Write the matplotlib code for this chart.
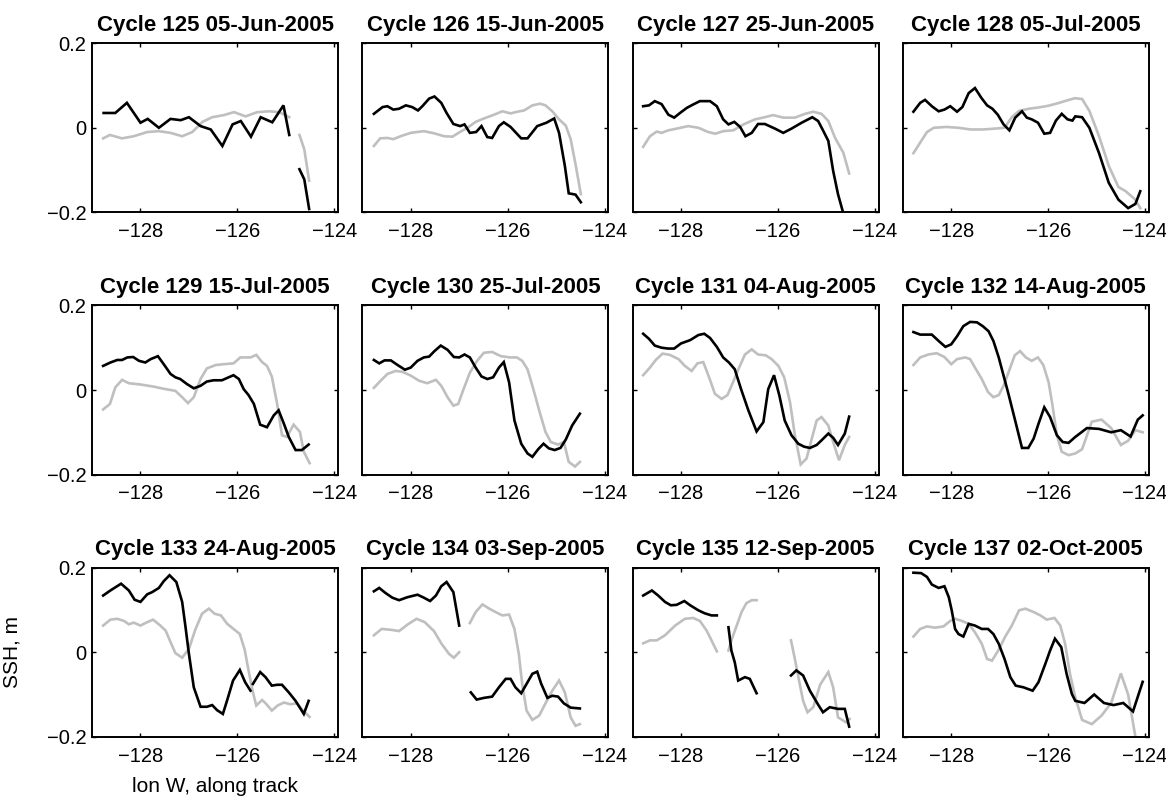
import numpy as np
import matplotlib.pyplot as plt

plt.rcParams["font.family"] = "Liberation Sans"

nan = np.nan

titles = ["Cycle 125 05-Jun-2005", "Cycle 126 15-Jun-2005", "Cycle 127 25-Jun-2005",
          "Cycle 128 05-Jul-2005", "Cycle 129 15-Jul-2005", "Cycle 130 25-Jul-2005",
          "Cycle 131 04-Aug-2005", "Cycle 132 14-Aug-2005", "Cycle 133 24-Aug-2005",
          "Cycle 134 03-Sep-2005", "Cycle 135 12-Sep-2005", "Cycle 137 02-Oct-2005"]

# (lon, ssh) vertices along the track, (nan, nan) marks a gap
dark_125 = [(-128.76, .035), (-128.52, .035), (-128.28, .059), (-128.0, .012), (-127.85, .021),
            (-127.62, .0), (-127.38, .021), (-127.17, .018), (-127.0, .025), (-126.76, .004),
            (-126.55, -.004), (-126.31, -.043), (-126.1, .008), (-125.93, .016), (-125.72, -.021),
            (-125.52, .025), (-125.28, .013), (-125.05, .053), (-124.93, -.017), (nan, nan),
            (-124.72, -.098), (-124.62, -.122), (-124.52, -.192)]
grey_125 = [(-128.77, -.025), (-128.63, -.017), (-128.38, -.025), (-128.14, -.02), (-127.86, -.01),
            (-127.62, -.008), (-127.38, -.012), (-127.14, -.02), (-126.93, -.01), (-126.72, .014),
            (-126.52, .025), (-126.28, .03), (-126.07, .037), (-125.83, .027), (-125.59, .037),
            (-125.34, .039), (-125.14, .037), (-124.93, .025), (nan, nan),
            (-124.72, -.017), (-124.62, -.051), (-124.52, -.125)]

dark_126 = [(-128.76, .033), (-128.58, .049), (-128.48, .051), (-128.36, .043), (-128.24, .045),
            (-128.1, .053), (-127.97, .049), (-127.85, .041), (-127.76, .051), (-127.62, .069),
            (-127.51, .074), (-127.37, .059), (-127.26, .035), (-127.12, .009), (-126.98, .004),
            (-126.89, .008), (-126.78, -.012), (-126.65, -.01), (-126.54, .004), (-126.42, -.022),
            (-126.32, -.024), (-126.18, .004), (-126.08, .013), (-125.94, .002), (-125.72, -.025),
            (-125.59, -.025), (-125.39, .004), (-125.2, .012), (-125.04, .022), (-124.94, -.012),
            (-124.82, -.09), (-124.74, -.155), (-124.6, -.158), (-124.49, -.176)]
grey_126 = [(-128.76, -.043), (-128.63, -.025), (-128.48, -.024), (-128.36, -.027), (-128.21, -.02),
            (-128.0, -.012), (-127.73, -.008), (-127.52, -.013), (-127.31, -.02), (-127.14, -.021),
            (-126.97, -.009), (-126.83, .0), (-126.66, .014), (-126.49, .022), (-126.28, .031),
            (-126.11, .039), (-125.94, .034), (-125.8, .038), (-125.66, .041), (-125.49, .053),
            (-125.33, .057), (-125.22, .053), (-125.08, .039), (-124.94, .02), (-124.8, .005),
            (-124.7, -.027), (-124.6, -.086), (-124.49, -.157)]

dark_127 = [(-128.78, .051), (-128.66, .053), (-128.54, .063), (-128.4, .056), (-128.26, .031),
            (-128.14, .024), (-128.02, .035), (-127.88, .047), (-127.75, .055), (-127.61, .063),
            (-127.4, .063), (-127.26, .051), (-127.13, .02), (-127.02, .008), (-126.9, .014),
            (-126.78, .002), (-126.67, -.02), (-126.54, -.012), (-126.41, .009), (-126.27, .009),
            (-126.06, -.002), (-125.89, -.012), (-125.72, -.002), (-125.51, .012), (-125.29, .025),
            (-125.17, .016), (-125.07, -.006), (-124.96, -.031), (-124.86, -.102), (-124.76, -.157),
            (-124.62, -.215)]
grey_127 = [(-128.78, -.045), (-128.64, -.02), (-128.5, -.009), (-128.4, -.012), (-128.26, -.006),
            (-128.09, -.002), (-127.85, .004), (-127.64, .0), (-127.44, -.01), (-127.29, -.014),
            (-127.13, -.008), (-126.92, -.006), (-126.71, .008), (-126.47, .02), (-126.27, .025),
            (-126.1, .03), (-125.89, .024), (-125.65, .024), (-125.44, .033), (-125.27, .038),
            (-125.1, .033), (-124.96, .016), (-124.82, -.024), (-124.65, -.059), (-124.53, -.108)]

dark_128 = [(-128.78, .038), (-128.64, .059), (-128.54, .066), (-128.4, .051), (-128.26, .039),
            (-128.14, .043), (-128.02, .051), (-127.88, .038), (-127.77, .049), (-127.64, .082),
            (-127.51, .094), (-127.38, .071), (-127.26, .053), (-127.15, .045), (-127.04, .031),
            (-126.92, .008), (-126.8, -.006), (-126.68, .024), (-126.54, .039), (-126.44, .024),
            (-126.34, .02), (-126.21, .012), (-126.08, -.014), (-125.96, -.012), (-125.84, .017),
            (-125.72, .033), (-125.6, .02), (-125.5, .017), (-125.44, .027), (-125.3, .025),
            (-125.15, .0), (-124.95, -.06), (-124.75, -.13), (-124.55, -.17), (-124.35, -.19),
            (-124.2, -.18), (-124.1, -.15)]
grey_128 = [(-128.78, -.06), (-128.64, -.035), (-128.5, -.01), (-128.36, .0), (-128.1, .002),
            (-127.85, .0), (-127.6, -.004), (-127.35, -.004), (-127.1, -.002), (-126.9, .0),
            (-126.75, .025), (-126.6, .04), (-126.4, .045), (-126.2, .048), (-126.0, .052),
            (-125.8, .058), (-125.6, .065), (-125.45, .07), (-125.3, .068), (-125.15, .04),
            (-124.95, -.02), (-124.75, -.09), (-124.55, -.14), (-124.4, -.15), (-124.2, -.17),
            (-124.1, -.19)]

dark_129 = [(-128.77, .057), (-128.62, .065), (-128.48, .071), (-128.38, .071), (-128.27, .077),
            (-128.15, .078), (-128.03, .069), (-127.9, .065), (-127.79, .073), (-127.64, .08),
            (-127.52, .061), (-127.38, .038), (-127.28, .03), (-127.18, .026), (-127.04, .014),
            (-126.9, .004), (-126.76, .01), (-126.63, .02), (-126.49, .023), (-126.32, .023),
            (-126.18, .03), (-126.08, .035), (-125.97, .026), (-125.87, .002), (-125.77, -.012),
            (-125.66, -.033), (-125.53, -.082), (-125.39, -.088), (-125.25, -.06), (-125.15, -.048),
            (-125.04, -.08), (-124.94, -.111), (-124.8, -.142), (-124.67, -.142), (-124.53, -.129)]
grey_129 = [(-128.77, -.046), (-128.63, -.033), (-128.52, .006), (-128.38, .024), (-128.24, .016),
            (-128.0, .013), (-127.73, .008), (-127.48, .002), (-127.28, -.002), (-127.14, -.017),
            (-127.02, -.031), (-126.9, -.017), (-126.76, .026), (-126.63, .051), (-126.45, .059),
            (-126.28, .061), (-126.08, .063), (-125.94, .077), (-125.73, .077), (-125.61, .083),
            (-125.49, .066), (-125.39, .057), (-125.29, .032), (-125.18, -.033), (-125.08, -.107),
            (-124.98, -.111), (-124.84, -.082), (-124.71, -.099), (-124.63, -.146), (-124.51, -.173)]

dark_130 = [(-128.76, .071), (-128.65, .063), (-128.54, .07), (-128.41, .07), (-128.27, .059),
            (-128.12, .048), (-128.0, .053), (-127.86, .069), (-127.73, .077), (-127.62, .079),
            (-127.51, .092), (-127.38, .105), (-127.24, .095), (-127.11, .078), (-127.0, .077),
            (-126.89, .084), (-126.78, .077), (-126.66, .053), (-126.54, .032), (-126.42, .026),
            (-126.3, .03), (-126.18, .053), (-126.08, .066), (-125.97, .018), (-125.86, -.072),
            (-125.72, -.127), (-125.59, -.15), (-125.49, -.158), (-125.37, -.14), (-125.26, -.127),
            (-125.15, -.138), (-125.03, -.142), (-124.91, -.137), (-124.8, -.117), (-124.67, -.084),
            (-124.51, -.056)]
grey_130 = [(-128.76, .005), (-128.62, .022), (-128.48, .038), (-128.31, .045), (-128.17, .043),
            (-128.0, .034), (-127.83, .022), (-127.66, .016), (-127.48, .024), (-127.37, .01),
            (-127.24, -.017), (-127.12, -.037), (-127.02, -.033), (-126.91, .002), (-126.78, .041),
            (-126.63, .069), (-126.49, .088), (-126.32, .09), (-126.14, .08), (-125.95, .077),
            (-125.81, .077), (-125.7, .069), (-125.59, .049), (-125.47, .002), (-125.35, -.048),
            (-125.22, -.099), (-125.11, -.123), (-124.96, -.129), (-124.84, -.123), (-124.74, -.17),
            (-124.61, -.181), (-124.51, -.17)]

dark_131 = [(-128.78, .133), (-128.66, .121), (-128.54, .105), (-128.4, .1), (-128.27, .098),
            (-128.14, .098), (-128.0, .11), (-127.81, .118), (-127.64, .13), (-127.52, .133),
            (-127.4, .123), (-127.26, .102), (-127.13, .077), (-127.01, .065), (-126.89, .049),
            (-126.76, .002), (-126.61, -.048), (-126.44, -.098), (-126.3, -.076), (-126.2, .002),
            (-126.08, .035), (-125.97, -.013), (-125.86, -.072), (-125.72, -.107), (-125.58, -.127),
            (-125.46, -.134), (-125.34, -.137), (-125.2, -.13), (-125.1, -.119), (-124.96, -.103),
            (-124.86, -.113), (-124.76, -.13), (-124.62, -.103), (-124.53, -.063)]
grey_131 = [(-128.78, .035), (-128.64, .053), (-128.52, .071), (-128.38, .086), (-128.23, .083),
            (-128.05, .073), (-127.92, .057), (-127.78, .045), (-127.66, .063), (-127.54, .066),
            (-127.42, .03), (-127.3, -.009), (-127.16, -.021), (-127.04, -.012), (-126.92, .02),
            (-126.8, .053), (-126.68, .084), (-126.54, .096), (-126.41, .084), (-126.25, .082),
            (-126.13, .073), (-125.99, .057), (-125.87, .03), (-125.75, -.029), (-125.65, -.107),
            (-125.53, -.176), (-125.41, -.162), (-125.31, -.119), (-125.2, -.072), (-125.1, -.064),
            (-124.96, -.084), (-124.86, -.123), (-124.74, -.166), (-124.62, -.13), (-124.53, -.111)]

dark_132 = [(-128.78, .137), (-128.64, .131), (-128.4, .131), (-128.26, .116), (-128.12, .102),
            (-128.0, .108), (-127.88, .127), (-127.75, .151), (-127.61, .161), (-127.47, .16),
            (-127.35, .151), (-127.23, .139), (-127.13, .116), (-127.02, .077), (-126.92, .034),
            (-126.82, -.009), (-126.69, -.068), (-126.54, -.137), (-126.41, -.137), (-126.3, -.115),
            (-126.2, -.08), (-126.08, -.041), (-125.96, -.064), (-125.82, -.107), (-125.7, -.123),
            (-125.58, -.125), (-125.44, -.111), (-125.2, -.09), (-124.95, -.092), (-124.7, -.1),
            (-124.5, -.095), (-124.3, -.11), (-124.15, -.07), (-124.05, -.06)]
grey_132 = [(-128.78, .059), (-128.64, .077), (-128.47, .084), (-128.3, .087), (-128.14, .078),
            (-128.0, .061), (-127.88, .073), (-127.71, .077), (-127.61, .073), (-127.51, .053),
            (-127.37, .026), (-127.24, -.005), (-127.13, -.017), (-127.02, -.012), (-126.92, .01),
            (-126.82, .041), (-126.69, .082), (-126.58, .092), (-126.46, .077), (-126.34, .069),
            (-126.21, .077), (-126.1, .059), (-125.99, .018), (-125.91, -.037), (-125.82, -.107),
            (-125.72, -.146), (-125.58, -.154), (-125.44, -.15), (-125.3, -.14), (-125.1, -.075),
            (-124.9, -.07), (-124.7, -.09), (-124.5, -.13), (-124.35, -.12), (-124.2, -.095),
            (-124.05, -.1)]

dark_133 = [(-128.77, .134), (-128.62, .146), (-128.4, .162), (-128.24, .146), (-128.12, .124),
            (-128.0, .119), (-127.86, .137), (-127.76, .142), (-127.62, .152), (-127.52, .168),
            (-127.4, .182), (-127.26, .166), (-127.14, .119), (-127.07, .059), (-127.0, -.004),
            (-126.9, -.083), (-126.76, -.129), (-126.63, -.129), (-126.52, -.125), (-126.42, -.137),
            (-126.3, -.146), (-126.21, -.113), (-126.09, -.067), (-125.95, -.042), (-125.84, -.071),
            (-125.73, -.091), (nan, nan), (-125.68, -.075), (-125.53, -.047), (-125.42, -.059),
            (-125.29, -.079), (-125.18, -.077), (-125.08, -.077), (-124.94, -.095), (-124.8, -.115),
            (-124.63, -.146), (-124.53, -.115)]
grey_133 = [(-128.77, .063), (-128.62, .077), (-128.48, .079), (-128.34, .074), (-128.24, .066),
            (-128.14, .07), (-128.0, .063), (-127.88, .07), (-127.74, .077), (-127.59, .063),
            (-127.48, .051), (-127.38, .024), (-127.28, -.002), (-127.14, -.013), (-127.0, .008),
            (-126.87, .053), (-126.73, .091), (-126.59, .103), (-126.47, .091), (-126.34, .087),
            (-126.21, .067), (-126.08, .055), (-125.95, .043), (-125.85, .006), (-125.77, -.043),
            (-125.68, -.095), (-125.61, -.126), (-125.49, -.113), (-125.4, -.123), (-125.29, -.138),
            (-125.17, -.126), (-125.04, -.119), (-124.91, -.123), (-124.77, -.121), (-124.65, -.138),
            (-124.51, -.153)]

dark_134 = [(-128.76, .144), (-128.65, .152), (-128.52, .14), (-128.38, .129), (-128.24, .123),
            (-128.07, .13), (-127.86, .136), (-127.73, .129), (-127.6, .121), (-127.48, .134),
            (-127.37, .156), (-127.26, .166), (-127.12, .142), (-127.0, .063), (nan, nan),
            (-126.76, -.095), (-126.64, -.112), (-126.49, -.108), (-126.32, -.105), (-126.18, -.083),
            (-126.04, -.063), (-125.94, -.063), (-125.84, -.083), (-125.72, -.097), (-125.61, -.075),
            (-125.49, -.051), (-125.39, -.046), (-125.31, -.074), (-125.18, -.108), (-125.08, -.103),
            (-124.96, -.105), (-124.84, -.121), (-124.7, -.131), (-124.51, -.133)]
grey_134 = [(-128.76, .04), (-128.6, .055), (-128.41, .053), (-128.24, .05), (-128.07, .065),
            (-127.88, .079), (-127.71, .071), (-127.52, .05), (-127.37, .021), (-127.21, -.004),
            (-127.11, -.013), (-127.0, .0), (nan, nan),
            (-126.78, .069), (-126.66, .095), (-126.52, .113), (-126.38, .103), (-126.25, .095),
            (-126.11, .087), (-125.97, .089), (-125.86, .055), (-125.77, -.004), (-125.7, -.075),
            (-125.61, -.138), (-125.49, -.16), (-125.35, -.15), (-125.22, -.121), (-125.08, -.091),
            (-124.94, -.067), (-124.82, -.095), (-124.7, -.154), (-124.6, -.174), (-124.51, -.17)]

dark_135 = [(-128.78, .134), (-128.6, .146), (-128.47, .134), (-128.33, .119), (-128.21, .111),
            (-128.09, .112), (-127.93, .121), (-127.81, .111), (-127.64, .099), (-127.51, .092),
            (-127.37, .087), (-127.26, .087), (nan, nan),
            (-127.02, .059), (-126.96, .004), (-126.89, -.024), (-126.82, -.067), (-126.68, -.059),
            (-126.58, -.063), (-126.44, -.097), (nan, nan),
            (-125.73, -.055), (-125.62, -.043), (-125.48, -.055), (-125.34, -.091), (-125.17, -.124),
            (-125.07, -.142), (-124.93, -.13), (-124.76, -.134), (-124.62, -.134), (-124.53, -.176)]
grey_135 = [(-128.78, .021), (-128.64, .028), (-128.5, .028), (-128.33, .04), (-128.12, .063),
            (-127.92, .079), (-127.75, .081), (-127.61, .074), (-127.47, .051), (-127.37, .028),
            (-127.26, .002), (nan, nan),
            (-127.02, .004), (-126.96, .028), (-126.85, .063), (-126.75, .095), (-126.65, .116),
            (-126.54, .123), (-126.44, .123), (nan, nan),
            (-125.73, .028), (-125.65, -.016), (-125.55, -.075), (-125.48, -.115), (-125.39, -.142),
            (-125.27, -.13), (-125.13, -.077), (-124.96, -.047), (-124.86, -.083), (-124.76, -.154),
            (-124.59, -.166), (-124.52, -.158)]

dark_137 = [(-128.78, .188), (-128.62, .187), (-128.5, .178), (-128.4, .16), (-128.26, .152),
            (-128.14, .156), (-128.05, .13), (-127.99, .099), (-127.92, .055), (-127.85, .043),
            (-127.75, .037), (-127.64, .067), (-127.51, .063), (-127.37, .055), (-127.24, .055),
            (-127.13, .043), (-127.02, .02), (-126.9, -.016), (-126.78, -.059), (-126.67, -.079),
            (-126.51, -.083), (-126.32, -.091), (-126.2, -.071), (-126.06, -.028), (-125.96, .004),
            (-125.86, .032), (-125.73, .012), (-125.62, -.051), (-125.51, -.099), (-125.44, -.115),
            (-125.25, -.12), (-125.05, -.1), (-124.85, -.12), (-124.65, -.125), (-124.45, -.12),
            (-124.25, -.14), (-124.05, -.07)]
grey_137 = [(-128.78, .037), (-128.64, .055), (-128.5, .061), (-128.33, .058), (-128.16, .061),
            (-128.02, .074), (-127.92, .079), (-127.78, .074), (-127.64, .067), (-127.51, .047),
            (-127.37, .02), (-127.26, -.016), (-127.16, -.02), (-127.02, .006), (-126.89, .036),
            (-126.75, .063), (-126.6, .099), (-126.47, .103), (-126.3, .095), (-126.16, .087),
            (-126.03, .077), (-125.87, .081), (-125.75, .063), (-125.65, .02), (-125.55, -.051),
            (-125.44, -.107), (-125.3, -.16), (-125.1, -.17), (-124.9, -.15), (-124.7, -.12),
            (-124.5, -.05), (-124.35, -.1), (-124.2, -.2)]

dark_lines = [dark_125, dark_126, dark_127, dark_128, dark_129, dark_130,
              dark_131, dark_132, dark_133, dark_134, dark_135, dark_137]
grey_lines = [grey_125, grey_126, grey_127, grey_128, grey_129, grey_130,
              grey_131, grey_132, grey_133, grey_134, grey_135, grey_137]

fig, axes = plt.subplots(3, 4, figsize=(11.66, 8), dpi=100)
fig.subplots_adjust(left=0.0789, right=0.9854, top=0.946, bottom=0.079,
                    wspace=0.0976, hspace=0.55)

for i, ax in enumerate(axes.flat):
    g = np.array(grey_lines[i], dtype=float)
    k = np.array(dark_lines[i], dtype=float)
    ax.plot(g[:, 0], g[:, 1], color="0.75", lw=1.9, solid_joinstyle="miter")
    ax.plot(k[:, 0], k[:, 1], color="k", lw=1.9, solid_joinstyle="miter")

    ax.set_xlim(-129, -123.92)
    ax.set_ylim(-0.2, 0.2)
    ax.set_xticks([-128, -126, -124])
    ax.set_xticklabels(["\u2212128", "\u2212126", "\u2212124"])
    ax.set_yticks([-0.2, 0, 0.2])
    if i % 4 == 0:
        ax.set_yticklabels(["\u22120.2", "0", "0.2"])
    else:
        ax.set_yticklabels([])
    ax.tick_params(direction="in", top=True, right=True, length=3, width=1,
                   labelsize=14.5)
    ax.tick_params(axis="x", pad=7)
    ax.tick_params(axis="y", pad=4)
    for s in ax.spines.values():
        s.set_linewidth(1.4)
    ax.set_title(titles[i], fontsize=16, fontweight="bold", pad=9)

axes[2, 0].set_ylabel("SSH, m", fontsize=15)
axes[2, 0].yaxis.set_label_coords(-0.285, 0.5)
axes[2, 0].set_xlabel("lon W, along track", fontsize=15, labelpad=8)

fig.savefig("out.png", dpi=100)
